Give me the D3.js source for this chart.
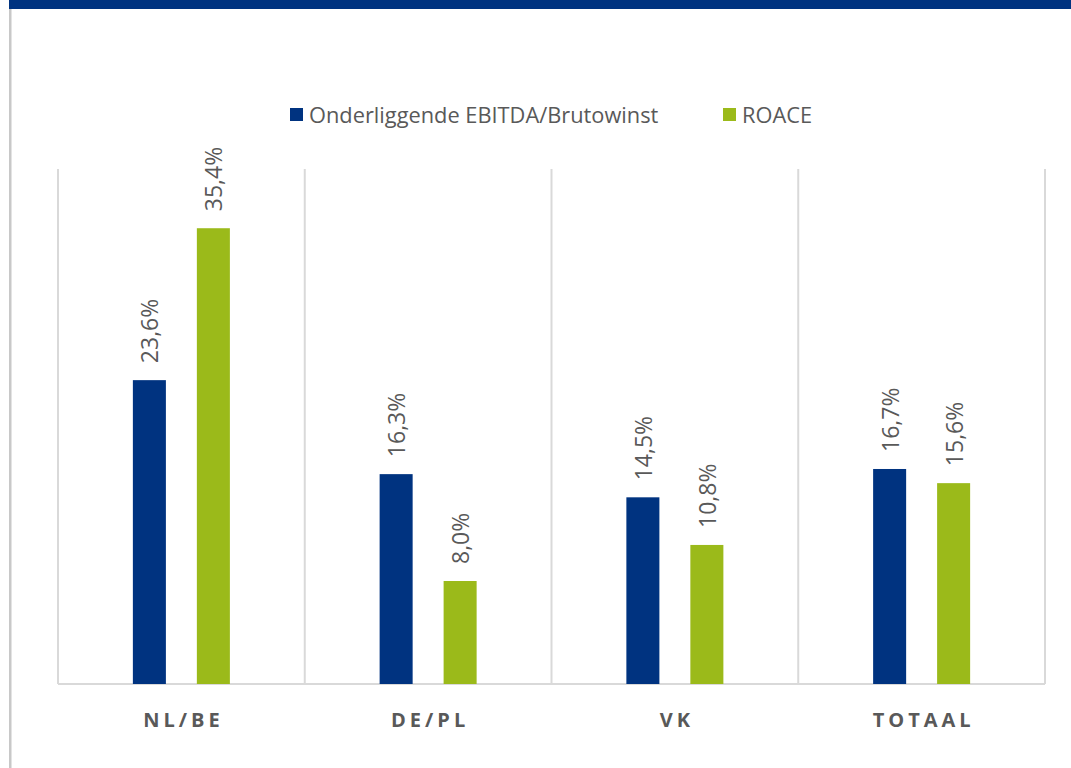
<!DOCTYPE html>
<html><head><meta charset="utf-8">
<script src="https://cdn.jsdelivr.net/npm/d3@7"></script>
<style>html,body{margin:0;padding:0;background:#fff;}svg{display:block;}</style>
</head><body>
<svg id="c" width="1071" height="768"></svg>
<script>
const categories = ["NL/BE", "DE/PL", "VK", "TOTAAL"];
const seriesNames = ["Onderliggende EBITDA/Brutowinst", "ROACE"];
const ebitda = [23.6, 16.3, 14.5, 16.7];
const roace = [35.4, 8.0, 10.8, 15.6];
const colors = ["#003380", "#9bba1a"];
const yMax = 40;

const svg = d3.select("#c");
const W = 1071, H = 768;
const m = {left: 58, right: 1045, top: 169, bottom: 684};

// top band and left border
svg.append("rect").attr("x", 9).attr("y", 0).attr("width", W - 9).attr("height", 9).attr("fill", "#003380");
svg.append("rect").attr("x", 9).attr("y", 9).attr("width", 2.5).attr("height", H - 9).attr("fill", "#c8c8c8");

const x0 = d3.scaleBand().domain(categories).range([m.left, m.right]).paddingInner(0).paddingOuter(0);
const y = d3.scaleLinear().domain([0, yMax]).range([m.bottom, m.top]);
const x1 = d3.scaleBand().domain(seriesNames).range([0, x0.bandwidth()]).paddingInner(0.484).paddingOuter(1.17);

// vertical gridlines at category boundaries
const bounds = categories.map(c => x0(c)).concat([m.right]);
svg.append("g").selectAll("line").data(bounds).join("line")
  .attr("x1", d => d).attr("x2", d => d).attr("y1", m.top).attr("y2", m.bottom)
  .attr("stroke", "#d9d9d9").attr("stroke-width", 2);
// baseline
svg.append("line").attr("x1", m.left).attr("x2", m.right).attr("y1", m.bottom).attr("y2", m.bottom)
  .attr("stroke", "#d9d9d9").attr("stroke-width", 2);

const data = categories.map((c, i) => ({cat: c, vals: [ebitda[i], roace[i]]}));
const g = svg.append("g").selectAll("g").data(data).join("g")
  .attr("transform", d => `translate(${x0(d.cat)},0)`);

g.selectAll("rect").data(d => d.vals.map((v, j) => ({v, s: seriesNames[j], j}))).join("rect")
  .attr("x", d => x1(d.s)).attr("width", x1.bandwidth())
  .attr("y", d => y(d.v)).attr("height", d => m.bottom - y(d.v))
  .attr("fill", d => colors[d.j]);

g.selectAll("text").data(d => d.vals.map((v, j) => ({v, s: seriesNames[j], j}))).join("text")
  .attr("transform", d => `translate(${x1(d.s) + x1.bandwidth() / 2 + 1},${y(d.v) - 17}) rotate(-90)`)
  .attr("dy", "0.35em")
  .attr("text-anchor", "start")
  .attr("font-family", "Open Sans, sans-serif").attr("font-size", 23)
  .attr("fill", "#595959")
  .text(d => d.v.toFixed(1).replace(".", ",") + "%");

// category labels
const xAxis = svg.append("g");
xAxis.selectAll("text").data(categories).join("text")
  .attr("x", d => x0(d) + x0.bandwidth() / 2 + 2)
  .attr("y", 720)
  .attr("dy", "0.35em")
  .attr("text-anchor", "middle")
  .attr("font-family", "Open Sans, sans-serif").attr("font-weight", "bold").attr("font-size", 20)
  .attr("letter-spacing", "4px")
  .attr("fill", "#595959")
  .text(d => d);

// legend
const legendX = [290, 723];
const lg = svg.append("g").selectAll("g").data(seriesNames).join("g")
  .attr("transform", (d, i) => `translate(${legendX[i]},108)`);
lg.append("rect").attr("width", 13).attr("height", 13).attr("fill", (d, i) => colors[i]);
lg.append("text").attr("x", 19).attr("y", 7).attr("dy", "0.35em")
  .attr("font-family", "Open Sans, sans-serif").attr("font-size", 21.8).attr("fill", "#595959")
  .text(d => d);
</script>
</body></html>
